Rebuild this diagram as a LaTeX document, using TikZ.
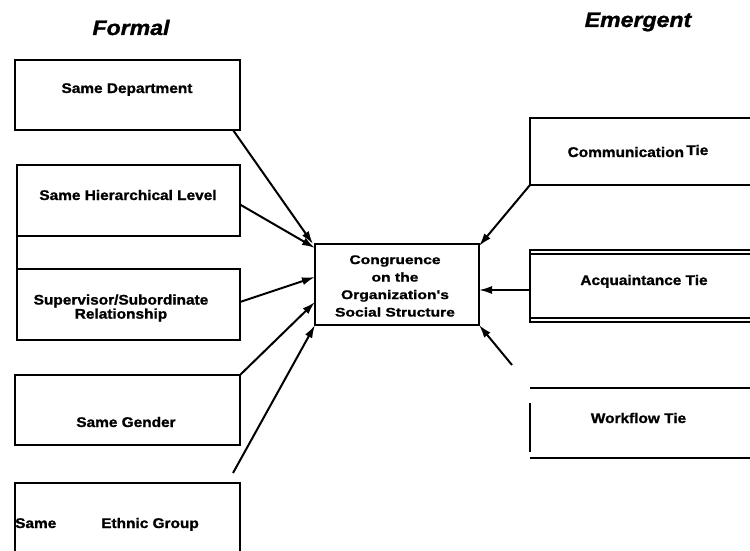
\documentclass[tikz,border=0pt]{standalone}
\usepackage{fontspec}
\newfontfamily\hv[FakeStretch=1.1,BoldFeatures={FakeBold=1.2},BoldItalicFeatures={FakeBold=1.2}]{Liberation Sans}
\newfontfamily\hvw[FakeStretch=1.25,BoldFeatures={FakeBold=1.2}]{Liberation Sans}
\usetikzlibrary{arrows.meta}
\begin{document}
\begin{tikzpicture}[x=1pt,y=-1pt,
  box/.style={rectangle,draw,line width=2.2pt,inner sep=0pt,outer sep=0pt},
  openbox/.style={rectangle,inner sep=0pt,outer sep=0pt},
  lbl/.style={anchor=base,inner sep=0pt,font=\hv\bfseries\fontsize{14}{14}\selectfont},
  ttl/.style={anchor=base,inner sep=0pt,font=\hv\bfseries\itshape\fontsize{21}{21}\selectfont},
  arr/.style={line width=2pt,-{Latex[length=13pt,width=8pt]}},
  bline/.style={line width=2.2pt},
  thinline/.style={line width=1.7pt}]
\useasboundingbox (0,0) rectangle (750,551);
\fill[white] (0,0) rectangle (750,551);

% titles
\node[ttl] (tformal) at (131,35) {Formal};
\node[ttl] (temerg) at (638,27) {Emergent};

% left boxes
\node[box,minimum width=225pt,minimum height=70pt] (dept) at (127.5,95) {};
\node[box,minimum width=223pt,minimum height=71pt] (hier) at (128.5,200.5) {};
\node[box,minimum width=223pt,minimum height=71pt] (super) at (128.5,304.5) {};
\node[box,minimum width=225pt,minimum height=70pt] (gender) at (127.5,410) {};
\node[openbox,minimum width=225pt,minimum height=80pt] (eth) at (127.5,523) {};
\draw[bline] (eth.south west) -- (eth.north west) -- (eth.north east) -- (eth.south east);
\draw[bline] (hier.south west) -- (super.north west);

\node[lbl] (tdept) at (127,93) {Same Department};
\node[lbl] (thier) at (128,200) {Same Hierarchical Level};
\node[anchor=center,inner sep=0pt,align=center,font=\hv\bfseries\fontsize{14}{13}\selectfont] (tsuper) at (121,308) {Supervisor/Subordinate\\Relationship};
\node[lbl] (tgender) at (126,427) {Same Gender};
\node[lbl,anchor=base west] (teth) at (15,528) {Same\hspace{45pt}Ethnic Group};

% center box
\node[box,minimum width=164pt,minimum height=81pt] (cong) at (397,284.5) {};
\node[anchor=center,inner sep=0pt,align=center,font=\hvw\bfseries\fontsize{12.5}{17.5}\selectfont] (tcong) at (395,286) {Congruence\\on the\\Organization's\\Social Structure};

% right boxes
\node[openbox,minimum width=225pt,minimum height=67pt] (comm) at (642.5,151.5) {};
\draw[bline] (comm.north east) -- (comm.north west) -- (comm.south west) -- (comm.south east);
\node[lbl] (tcomm) at (638,157) {Communication\,\raisebox{2pt}{Tie}};

\node[openbox,minimum width=225pt,minimum height=72pt] (acq) at (642.5,286) {};
\draw[thinline] (acq.north east) -- (acq.north west) -- (acq.south west) -- (acq.south east);
\draw[thinline] ([yshift=-4pt]acq.north west) -- ([yshift=-4pt]acq.north east);
\draw[thinline] ([yshift=4pt]acq.south west) -- ([yshift=4pt]acq.south east);
\node[lbl] (tacq) at (644,285) {Acquaintance Tie};

\node[openbox,minimum width=225pt,minimum height=70pt] (wf) at (642.5,423) {};
\draw[bline] (wf.north west) -- (wf.north east);
\draw[bline] (wf.south west) -- (wf.south east);
\draw[bline] ([yshift=-15pt]wf.north west) -- ([yshift=6pt]wf.south west);
\node[lbl] (twf) at (638.5,423) {Workflow Tie};

% arrows
\coordinate (f1) at (233,473);
\coordinate (f2) at (512,365);
\draw[arr] ([xshift=-7pt]dept.south east) -- ([xshift=-2pt]cong.north west);
\draw[arr] ([yshift=-4pt]hier.east) -- ([yshift=-4pt]cong.north west);
\draw[arr] ([yshift=2.5pt]super.east) -- ([yshift=7.5pt]cong.west);
\draw[arr] (gender.north east) -- ([yshift=-17.5pt]cong.west);
\draw[arr] (f1) -- (cong.south west);
\draw[arr] (comm.south west) -- ([yshift=-2pt]cong.north east);
\draw[arr] ([yshift=-4pt]acq.west) -- ([yshift=-5.5pt]cong.east);
\draw[arr] (f2) -- (cong.south east);
\end{tikzpicture}
\end{document}
